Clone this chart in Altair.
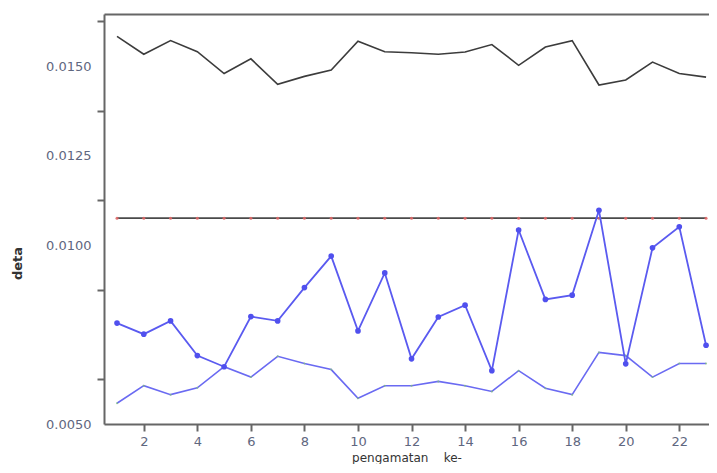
import altair as alt
import pandas as pd

# observation index
obs = list(range(1, 24))
# upper (black) series
atas = [0.01583, 0.01533, 0.01571, 0.01540, 0.01479, 0.01520, 0.01449, 0.01471,
        0.01489, 0.01569, 0.01540, 0.01537, 0.01533, 0.01539, 0.01560, 0.01502,
        0.01553, 0.01571, 0.01447, 0.01461, 0.01511, 0.01479, 0.01469]
# blue series with markers
deta_a = [0.00782, 0.00751, 0.00788, 0.00691, 0.00660, 0.00800, 0.00788, 0.00881,
          0.00969, 0.00760, 0.00922, 0.00682, 0.00799, 0.00832, 0.00649, 0.01042,
          0.00848, 0.00860, 0.01097, 0.00668, 0.00992, 0.01051, 0.00720]
# lower blue series
deta_b = [0.00558, 0.00607, 0.00582, 0.00601, 0.00660, 0.00631, 0.00689, 0.00669,
          0.00652, 0.00572, 0.00607, 0.00607, 0.00619, 0.00607, 0.00591, 0.00649,
          0.00600, 0.00582, 0.00700, 0.00691, 0.00631, 0.00669, 0.00669]
# horizontal limit line
batas = [0.01075] * 23

x_ticks = [2, 4, 6, 8, 10, 12, 14, 16, 18, 20, 22]
y_labels = [0.0050, 0.0100, 0.0125, 0.0150]
y_ticks_only = [0.00625, 0.00875, 0.01125, 0.01375, 0.01625]

df = pd.DataFrame({"obs": obs, "atas": atas, "deta_a": deta_a,
                   "deta_b": deta_b, "batas": batas})

xs = alt.Scale(domain=[0.514, 23.11], nice=False, zero=False)
ys = alt.Scale(domain=[0.005, 0.016453], nice=False, zero=False)

FONT = "DejaVu Sans"
LBL = "#5f6780"
DOM = "#666666"

tick_test = "slice(format(datum.value, '.5f'), -1) == '5'"

x_axis = alt.Axis(values=x_ticks, title="pengamatan\u00a0\u00a0\u00a0\u00a0ke-",
                  grid=False, domainColor=DOM, domainWidth=2, tickColor=DOM,
                  tickWidth=2, tickSize=7, labelFont=FONT, labelFontSize=13,
                  labelColor=LBL, labelPadding=4, labelFlush=False,
                  titleFont=FONT, titleFontSize=12, titleFontWeight="normal",
                  titleColor="#333333", titleY=33, titleBaseline="middle")

y_axis = alt.Axis(values=sorted(y_labels + y_ticks_only), title="deta",
                  grid=False, domainColor=DOM, domainWidth=2, tickColor=DOM,
                  tickWidth=2, tickSize=7,
                  tickOpacity={"condition": {"test": tick_test, "value": 1}, "value": 0},
                  labelExpr=f"{tick_test} ? '' : format(datum.value, '.4f')",
                  labelOverlap=False, labelFlush=False,
                  labelFont=FONT, labelFontSize=13, labelColor=LBL, labelPadding=6,
                  titleFont=FONT, titleFontSize=13, titleFontWeight="bold",
                  titleColor="#333333", titleAngle=270, titleX=-87, titleY=249,
                  titleBaseline="middle", titleAlign="center")

top_axis = alt.Axis(orient="top", labels=False, ticks=False, title=None,
                    grid=False, domainColor=DOM, domainWidth=2)

base = alt.Chart(df)

l_atas = base.mark_line(color="#3c3c3c", strokeWidth=1.6).encode(
    x=alt.X("obs:Q", scale=xs, axis=x_axis),
    y=alt.Y("atas:Q", scale=ys, axis=y_axis),
)

l_batas = base.mark_line(color="#4a4a4a", strokeWidth=1.6).encode(
    x=alt.X("obs:Q", scale=xs, axis=top_axis),
    y=alt.Y("batas:Q", scale=ys, axis=None),
)

p_batas = base.mark_point(color="#e06666", filled=True, size=9, opacity=0.9).encode(
    x=alt.X("obs:Q", scale=xs, axis=None),
    y=alt.Y("batas:Q", scale=ys, axis=None),
)

l_b = base.mark_line(color="#6a6af2", strokeWidth=1.6).encode(
    x=alt.X("obs:Q", scale=xs, axis=None),
    y=alt.Y("deta_b:Q", scale=ys, axis=None),
)

p_b = base.mark_point(color="#7fbf7f", filled=True, size=4, opacity=0.8).encode(
    x=alt.X("obs:Q", scale=xs, axis=None),
    y=alt.Y("deta_b:Q", scale=ys, axis=None),
)

l_a = base.mark_line(color="#5a5af0", strokeWidth=1.8).encode(
    x=alt.X("obs:Q", scale=xs, axis=None),
    y=alt.Y("deta_a:Q", scale=ys, axis=None),
)

p_a = base.mark_point(color="#5050ee", filled=True, size=32, opacity=1).encode(
    x=alt.X("obs:Q", scale=xs, axis=None),
    y=alt.Y("deta_a:Q", scale=ys, axis=None),
)

chart = (
    alt.layer(l_atas, l_batas, p_batas, l_b, p_b, l_a, p_a)
    .resolve_axis(x="independent", y="independent")
    .properties(
        width=605,
        height=410,
        autosize=alt.AutoSizeParams(type="none"),
        padding={"left": 96, "top": 6, "right": 0, "bottom": 40},
        background="white",
    )
    .configure_view(strokeWidth=0)
)

chart.save("out.html", embed_options={"renderer": "svg", "actions": False})
